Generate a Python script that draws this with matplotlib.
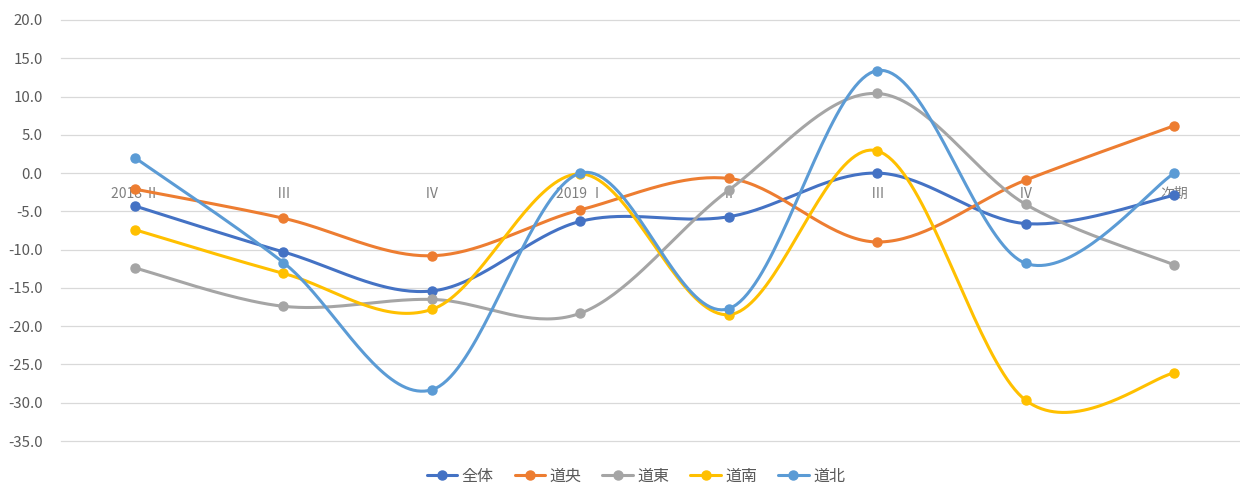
import numpy as np
import matplotlib
matplotlib.use('Agg')
import matplotlib.pyplot as plt

plt.rcParams['font.family'] = ['Noto Sans CJK JP', 'DejaVu Sans']

categories = ['2018 Ⅱ', 'Ⅲ', 'Ⅳ', '2019 Ⅰ', 'Ⅱ', 'Ⅲ', 'Ⅳ', '次期']
series_names = ['全体', '道央', '道東', '道南', '道北']
zentai = [-4.3, -10.3, -15.4, -6.3, -5.7, 0.0, -6.6, -2.9]
douou = [-2.1, -5.9, -10.8, -4.8, -0.7, -9.0, -0.9, 6.2]
doutou = [-12.4, -17.4, -16.5, -18.3, -2.2, 10.4, -4.1, -12.0]
dounan = [-7.4, -13.1, -17.8, -0.1, -18.5, 2.9, -29.7, -26.1]
douhoku = [2.0, -11.7, -28.3, 0.0, -17.7, 13.4, -11.8, 0.0]
colors = ['#4472C4', '#ED7D31', '#A5A5A5', '#FFC000', '#5B9BD5']


# Excel-like smoothing: cubic bezier with catmull-rom control points
def smooth(xs, ys, steps=40):
    pts = np.column_stack([xs, ys]).astype(float)
    n = len(pts)
    out = []
    for i in range(n - 1):
        p0 = pts[max(i - 1, 0)]
        p1 = pts[i]
        p2 = pts[i + 1]
        p3 = pts[min(i + 2, n - 1)]
        c1 = p1 + (p2 - p0) / 6
        c2 = p2 - (p3 - p1) / 6
        last = i == n - 2
        t = np.linspace(0, 1, steps + 1 if last else steps, endpoint=last)[:, None]
        seg = ((1 - t) ** 3) * p1 + 3 * ((1 - t) ** 2) * t * c1 + 3 * (1 - t) * t ** 2 * c2 + t ** 3 * p2
        out.append(seg)
    curve = np.vstack(out)
    marks = [i * steps for i in range(n)]
    return curve[:, 0], curve[:, 1], marks


fig = plt.figure(figsize=(12.4, 4.84), dpi=100)
ax = fig.add_axes([0.049, 0.0888, 0.958, 0.8699])

x = np.arange(len(categories))
for name, vals, c in zip(series_names, [zentai, douou, doutou, dounan, douhoku], colors):
    cx, cy, marks = smooth(x, vals)
    ax.plot(cx, cy, color=c, lw=2.2, marker='o', ms=6.5, markevery=marks,
            label=name, solid_capstyle='round')

ax.set_xlim(-0.5, len(categories) - 0.5)
ax.set_ylim(-35, 20)
ax.set_yticks(np.arange(-35, 20.1, 5))
ax.set_yticklabels([f'{v:.1f}' for v in np.arange(-35, 20.1, 5)])
ax.yaxis.grid(True, color='#d9d9d9', lw=0.9)
for gl in ax.get_ygridlines():
    gl.set_clip_on(False)
ax.set_axisbelow(True)

ax.set_xticks(x)
ax.set_xticklabels(categories)
ax.spines['bottom'].set_position(('data', 0))
for s in ax.spines.values():
    s.set_visible(False)
ax.tick_params(axis='x', length=0, pad=10, labelsize=10, labelcolor='#808080')
ax.tick_params(axis='y', length=0, pad=13, labelsize=10.8, labelcolor='#595959')

leg = ax.legend(loc='center', bbox_to_anchor=(636 / 1240, 1 - 476 / 484),
                bbox_transform=fig.transFigure, ncol=5, frameon=False,
                fontsize=11.5, handlelength=1.9, columnspacing=1.3, handletextpad=0.3)
for t in leg.get_texts():
    t.set_color('#595959')

fig.savefig('out.png', dpi=100)
